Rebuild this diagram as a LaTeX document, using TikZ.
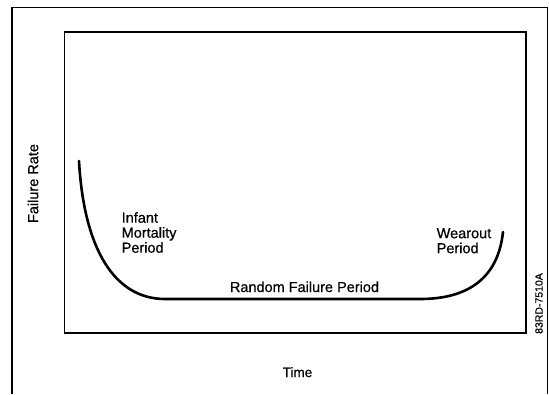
\documentclass[tikz,border=0pt]{standalone}
\usepackage{fontspec}
\setmainfont{Liberation Sans}
\newfontfamily\lblfont{Liberation Sans}[FakeBold=0.5]
\begin{document}
\begin{tikzpicture}[x=1pt,y=-1pt,
  frame/.style={line width=1.1pt,black},
  curvestyle/.style={line width=2.6pt,black,line cap=round},
  lbl/.style={font=\lblfont\fontsize{14.5}{15}\selectfont,inner sep=0pt,align=left},
  idlbl/.style={font=\lblfont\fontsize{10.5}{12}\selectfont,inner sep=0pt,rotate=90}]
\useasboundingbox (0,0) rectangle (549,394);
% outer frame (open at the bottom)
\draw[frame] (12,394) -- (12,7.5) -- (547.5,7.5) -- (547.5,394);
% inner plot box
\draw[frame] (64.5,32) rectangle (526,333);
% bathtub curve
\draw[curvestyle] (79,161) .. controls (84,250) and (115,299) .. (165,299)
  -- (420,299) .. controls (455,299) and (497,288) .. (503,232);
% labels
\node[lbl,rotate=90] (ylab) at (33,183.5) {Failure Rate};
\node[lbl,anchor=base,font=\lblfont\fontsize{13.5}{15}\selectfont] (xlab) at (297.5,377) {Time};
\node[lbl,anchor=north west] (infant) at (121.5,212) {Infant\\Mortality\\Period};
\node[lbl,anchor=base] (random) at (304.5,292) {Random Failure Period};
\node[lbl,anchor=north west] (wear) at (436.5,228) {Wearout\\Period};
\node[idlbl] (figid) at (539,303.5) {83RD-7510A};
\end{tikzpicture}
\end{document}
